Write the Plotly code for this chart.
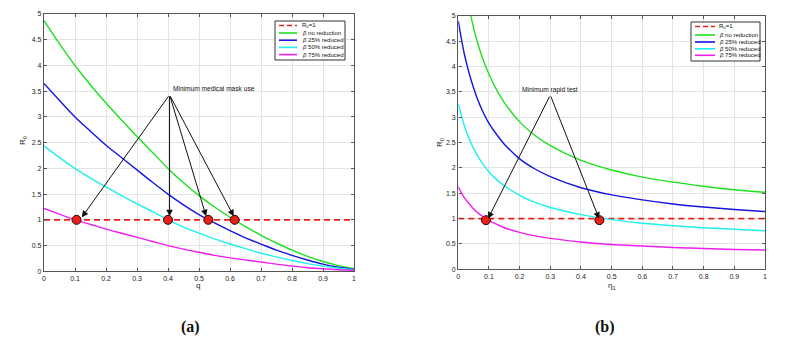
import plotly.graph_objects as go

# ---------------- data ----------------
q = [0, 0.05, 0.1, 0.15, 0.2, 0.25, 0.3, 0.35, 0.4, 0.45, 0.5,
     0.55, 0.6, 0.65, 0.7, 0.75, 0.8, 0.85, 0.9, 0.95, 1.0]
a_no = [4.87, 4.42, 4.0, 3.62, 3.27, 2.94, 2.62, 2.31, 2.0, 1.72, 1.47,
        1.25, 1.05, 0.87, 0.70, 0.55, 0.41, 0.29, 0.19, 0.11, 0.05]
a_25 = [3.65, 3.32, 3.0, 2.72, 2.45, 2.21, 1.97, 1.73, 1.5, 1.29, 1.10,
        0.94, 0.79, 0.65, 0.53, 0.41, 0.31, 0.22, 0.14, 0.08, 0.04]
a_50 = [2.44, 2.21, 2.0, 1.81, 1.64, 1.47, 1.31, 1.16, 1.0, 0.86, 0.74,
        0.63, 0.53, 0.44, 0.35, 0.28, 0.21, 0.15, 0.10, 0.06, 0.03]
a_75 = [1.22, 1.11, 1.0, 0.91, 0.82, 0.74, 0.66, 0.58, 0.5, 0.43, 0.37,
        0.31, 0.26, 0.22, 0.18, 0.14, 0.10, 0.07, 0.05, 0.03, 0.02]

eta = [0, 0.02, 0.04, 0.06, 0.08, 0.1, 0.125, 0.15, 0.2, 0.25, 0.3,
       0.4, 0.5, 0.6, 0.7, 0.8, 0.9, 1.0]
b_no = [6.53, 5.65, 5.02, 4.53, 4.15, 3.85, 3.54, 3.29, 2.91, 2.64, 2.44,
        2.15, 1.96, 1.82, 1.72, 1.64, 1.57, 1.52]
b_25 = [4.90, 4.24, 3.77, 3.40, 3.11, 2.88, 2.66, 2.47, 2.18, 1.98, 1.83,
        1.61, 1.47, 1.37, 1.29, 1.23, 1.18, 1.14]
b_50 = [3.27, 2.83, 2.51, 2.27, 2.08, 1.92, 1.77, 1.65, 1.46, 1.32, 1.22,
        1.08, 0.98, 0.91, 0.86, 0.82, 0.79, 0.76]
b_75 = [1.63, 1.41, 1.26, 1.13, 1.04, 0.96, 0.89, 0.82, 0.73, 0.66, 0.61,
        0.54, 0.49, 0.46, 0.43, 0.41, 0.39, 0.38]

thr_x = [0, 1]
thr_y = [1, 1]

mask_q = [0.105, 0.40, 0.53, 0.615]
mask_r = [1.0, 1.0, 1.0, 1.0]
test_eta = [0.09, 0.46]
test_r = [0.97, 0.97]

# arrow geometry (data coordinates)
mask_tail = (0.405, 3.43)
mask_heads = [(0.122, 1.05), (0.405, 1.07), (0.523, 1.07), (0.612, 1.07)]
test_tail = (0.30, 3.44)
test_heads = [(0.097, 1.0), (0.459, 1.0)]

y_ticks = [0, 0.5, 1, 1.5, 2, 2.5, 3, 3.5, 4, 4.5, 5]
x_ticks = [0, 0.1, 0.2, 0.3, 0.4, 0.5, 0.6, 0.7, 0.8, 0.9, 1]

legend_labels = ["R<sub>0</sub>=1", "<i>β</i> no reduction", "<i>β</i> 25% reduced",
                 "<i>β</i> 50% reduced", "<i>β</i> 75% reduced"]

# ---------------- styling ----------------
W, H = 809, 345
GREEN, BLUE, CYAN, MAG, RED = "#1ee01e", "#1515e0", "#1ef0f0", "#f01ef0", "#e8201c"
colors = [GREEN, BLUE, CYAN, MAG]
FONT = "Liberation Sans, Arial, sans-serif"


def px(x, y):
    return x / W, 1 - y / H


fig = go.Figure()

for (xs, ys_list, xa, ya) in [(q, [a_no, a_25, a_50, a_75], "x", "y"),
                               (eta, [b_no, b_25, b_50, b_75], "x2", "y2")]:
    fig.add_trace(go.Scatter(x=thr_x, y=thr_y, mode="lines", xaxis=xa, yaxis=ya,
                             line=dict(color=RED, width=1.6, dash="6px,4px"),
                             showlegend=False, hoverinfo="skip"))
    for ys, c in zip(ys_list, colors):
        fig.add_trace(go.Scatter(x=xs, y=ys, mode="lines", xaxis=xa, yaxis=ya,
                                 line=dict(color=c, width=1.4, shape="spline", smoothing=0.8),
                                 showlegend=False))

fig.add_trace(go.Scatter(x=mask_q, y=mask_r, mode="markers", xaxis="x", yaxis="y",
                         marker=dict(color=RED, size=9, line=dict(color="#300", width=1)),
                         showlegend=False))
fig.add_trace(go.Scatter(x=test_eta, y=test_r, mode="markers", xaxis="x2", yaxis="y2",
                         marker=dict(color=RED, size=9, line=dict(color="#300", width=1)),
                         showlegend=False))

annotations = []
for (hx, hy) in mask_heads:
    annotations.append(dict(x=hx, y=hy, ax=mask_tail[0], ay=mask_tail[1], xref="x", yref="y",
                            axref="x", ayref="y", text="", showarrow=True, arrowhead=2,
                            arrowsize=1.3, arrowwidth=1, arrowcolor="#111"))
for (hx, hy) in test_heads:
    annotations.append(dict(x=hx, y=hy, ax=test_tail[0], ay=test_tail[1], xref="x2", yref="y2",
                            axref="x2", ayref="y2", text="", showarrow=True, arrowhead=2,
                            arrowsize=1.3, arrowwidth=1, arrowcolor="#111"))

annotations.append(dict(x=0.41, y=3.55, xref="x", yref="y", text="Minimum medical mask use",
                        showarrow=False, xanchor="left", yanchor="middle",
                        font=dict(family=FONT, size=6.6, color="#111")))
annotations.append(dict(x=0.30, y=3.53, xref="x2", yref="y2", text="Minimum rapid test",
                        showarrow=False, xanchor="center", yanchor="middle",
                        font=dict(family=FONT, size=6.6, color="#111")))

# axis titles
for (x, y, t, ang) in [(23, 141, "R<sub>0</sub>", -90), (198, 285, "q", 0),
                       (440, 143, "R<sub>0</sub>", -90), (612, 286, "η<sub>1</sub>", 0)]:
    xx, yy = px(x, y)
    annotations.append(dict(x=xx, y=yy, xref="paper", yref="paper", text=t, showarrow=False,
                            textangle=ang, xanchor="center", yanchor="middle",
                            font=dict(family=FONT, size=8, color="#222")))

# captions
for (x, t) in [(190, "(a)"), (605, "(b)")]:
    xx, yy = px(x, 327)
    annotations.append(dict(x=xx, y=yy, xref="paper", yref="paper", text="<b>" + t + "</b>",
                            showarrow=False, xanchor="center", yanchor="middle",
                            font=dict(family="Liberation Serif, Times New Roman, serif",
                                      size=16, color="#111")))

# manual legends
shapes = []
legend_specs = [
    dict(box=(275, 21, 345, 60), sx=(279, 297), tx=300, rows=[25.5, 33.0, 40.2, 47.4, 54.6]),
    dict(box=(691, 22, 760, 61), sx=(695, 715), tx=717, rows=[26.5, 35.0, 42.0, 48.8, 55.3]),
]
for spec in legend_specs:
    x0, y0 = px(spec["box"][0], spec["box"][1])
    x1, y1 = px(spec["box"][2], spec["box"][3])
    shapes.append(dict(type="rect", xref="paper", yref="paper", x0=x0, y0=y1, x1=x1, y1=y0,
                       line=dict(color="#333", width=1), fillcolor="white", layer="above"))
    for i, (lab, row) in enumerate(zip(legend_labels, spec["rows"])):
        c = [RED] + colors
        lx0, ly = px(spec["sx"][0], row)
        lx1, _ = px(spec["sx"][1], row)
        shapes.append(dict(type="line", xref="paper", yref="paper", x0=lx0, x1=lx1, y0=ly, y1=ly,
                           line=dict(color=c[i], width=1.6,
                                     dash="5px,3px" if i == 0 else "solid"),
                           layer="above"))
        tx, _ = px(spec["tx"], row)
        annotations.append(dict(x=tx, y=ly, xref="paper", yref="paper", text=lab, showarrow=False,
                                xanchor="left", yanchor="middle",
                                font=dict(family=FONT, size=6, color="#111")))

axis_common = dict(showgrid=True, gridcolor="#e4e4e4", gridwidth=1, zeroline=False,
                   showline=True, linecolor="#555", linewidth=1.4, mirror="ticks",
                   ticks="inside", ticklen=3, tickcolor="#555", automargin=False,
                   tickfont=dict(family=FONT, size=7, color="#222"))

lx0, _ = px(44, 0); lx1, _ = px(354, 0)
_, ly1 = px(0, 14); _, ly0 = px(0, 271.3)
rx0, _ = px(458.3, 0); rx1, _ = px(765, 0)
_, ry1 = px(0, 16); _, ry0 = px(0, 269.3)

fig.update_layout(
    width=W, height=H, margin=dict(l=0, r=0, t=0, b=0),
    paper_bgcolor="white", plot_bgcolor="white",
    xaxis=dict(domain=[lx0, lx1], anchor="y", range=[0, 1], tickvals=x_ticks, **axis_common),
    yaxis=dict(domain=[ly0, ly1], anchor="x", range=[0, 5], tickvals=y_ticks, **axis_common),
    xaxis2=dict(domain=[rx0, rx1], anchor="y2", range=[0, 1], tickvals=x_ticks, **axis_common),
    yaxis2=dict(domain=[ry0, ry1], anchor="x2", range=[0, 5], tickvals=y_ticks, **axis_common),
    annotations=annotations, shapes=shapes, showlegend=False,
)

fig.write_html("out.html", config={"displayModeBar": False},
               post_script="document.body.style.margin='0';document.body.style.overflow='hidden';")
